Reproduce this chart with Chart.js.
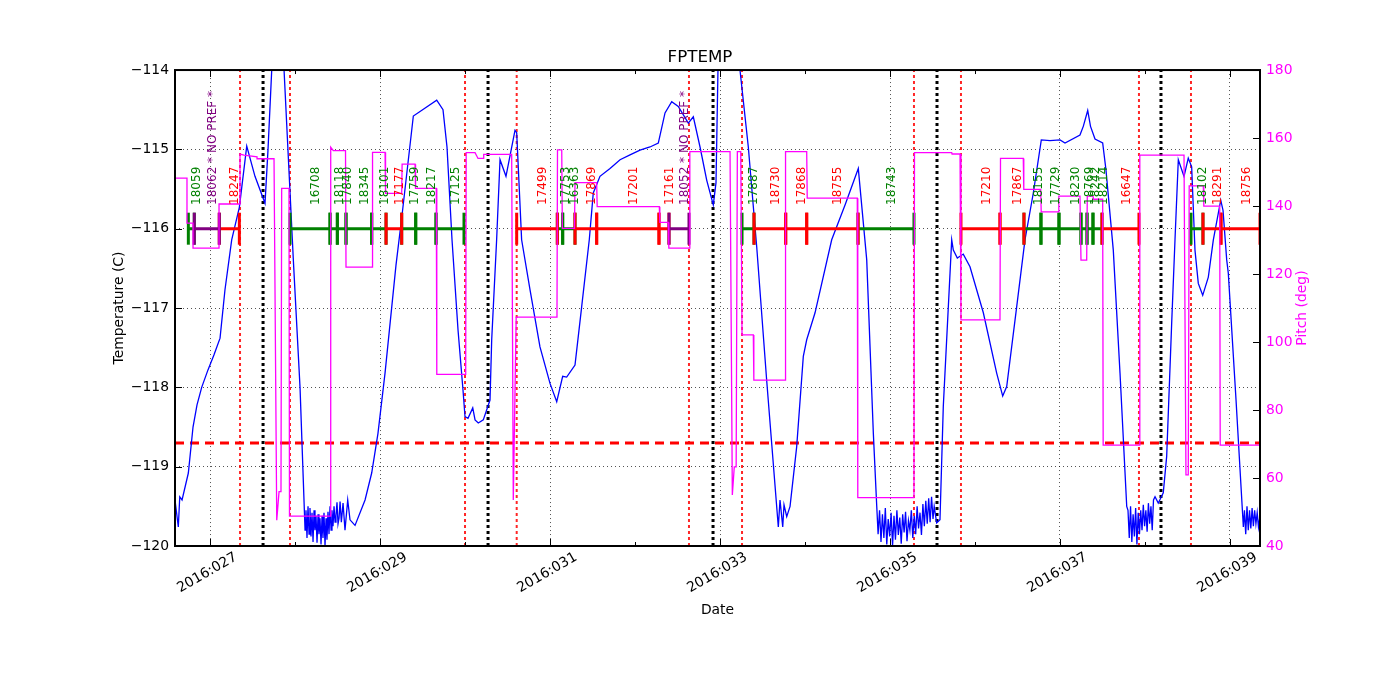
<!DOCTYPE html>
<html><head><meta charset="utf-8">
<script src="https://cdn.jsdelivr.net/npm/chart.js@4"></script>
<style>html,body{margin:0;padding:0;background:#fff}</style>
</head><body>
<canvas id="c" width="1400" height="700"></canvas>
<script>
const X_MIN = 26.588, X_MAX = 39.353;
const tempTicks = [-120,-119,-118,-117,-116,-115,-114];
const pitchTicks = [40,60,80,100,120,140,160,180];
const dayTicks = [27,28,29,30,31,32,33,34,35,36,37,38,39];
const planningLimit = -118.7;
const SEG_Y = -116, LABEL_Y = -115.7;

const tempDays = [26.588,26.627,26.644,26.671,26.745,26.800,26.847,26.902,26.976,27.047,27.118,27.176,27.255,27.345,27.432,27.529,27.647,27.682,27.726,27.776,27.835,27.871,27.980,28.059,28.118,
28.129,28.141,28.153,28.165,28.176,28.188,28.200,28.212,28.224,28.235,28.247,28.259,28.271,28.282,28.294,28.306,28.318,28.329,28.341,28.353,28.365,28.376,28.388,28.400,28.412,28.424,28.435,28.447,28.459,28.471,28.482,28.494,28.506,28.518,28.530,28.545,28.565,
28.588,28.620,28.647,28.706,28.824,28.902,28.976,29.059,29.188,29.259,29.392,29.667,29.741,29.788,29.847,29.918,29.976,30.000,30.035,30.091,30.118,30.156,30.215,30.294,30.314,30.372,30.412,30.482,30.588,30.608,30.666,30.765,30.882,31.000,31.079,31.149,31.196,31.294,31.373,31.462,31.509,31.588,31.706,31.824,31.941,32.059,32.176,32.274,32.353,32.432,32.509,32.627,32.686,32.765,32.844,32.921,32.953,32.976,33.000,33.212,33.235,33.333,33.432,33.549,33.686,33.706,33.738,33.753,33.785,33.824,33.902,33.980,34.020,34.118,34.314,34.471,34.627,34.726,34.804,34.844,
34.860,34.877,34.894,34.911,34.928,34.945,34.962,34.979,34.996,35.013,35.030,35.047,35.064,35.081,35.098,35.115,35.132,35.149,35.166,35.183,35.200,35.217,35.234,35.251,35.268,35.285,35.302,35.319,35.336,35.353,35.370,35.387,35.404,35.421,35.438,35.455,35.472,35.489,35.506,35.520,
35.549,35.588,35.627,35.726,35.745,35.792,35.862,35.941,36.098,36.255,36.326,36.373,36.491,36.588,36.686,36.780,36.882,37.000,37.059,37.235,37.274,37.326,37.359,37.412,37.502,37.541,37.627,37.706,37.785,
37.800,37.815,37.830,37.845,37.860,37.875,37.890,37.905,37.920,37.935,37.950,37.965,37.980,37.995,38.010,38.025,38.040,38.055,38.070,38.085,38.100,
38.118,38.156,38.215,38.255,38.314,38.353,38.392,38.459,38.509,38.549,38.588,38.627,38.679,38.745,38.804,38.891,38.918,38.961,38.980,39.071,39.157,
39.170,39.185,39.200,39.215,39.230,39.245,39.260,39.275,39.290,39.305,39.320,39.335,39.353];
const tempVals = [-119.42,-119.76,-119.38,-119.42,-119.08,-118.50,-118.22,-118.00,-117.78,-117.59,-117.38,-116.77,-116.14,-115.73,-114.96,-115.34,-115.68,-115.01,-114.00,-113.37,-113.37,-114.00,-116.39,-118.00,-119.80,
-119.55,-119.90,-119.50,-119.85,-119.52,-119.88,-119.58,-119.95,-119.55,-119.80,-119.62,-119.96,-119.60,-119.85,-119.65,-119.98,-119.62,-119.90,-119.58,-120.00,-119.65,-119.92,-119.57,-119.85,-119.50,-119.80,-119.55,-119.75,-119.50,-119.70,-119.62,-119.45,-119.72,-119.65,-119.44,-119.70,-119.46,
-119.80,-119.42,-119.67,-119.74,-119.42,-119.08,-118.58,-117.82,-116.46,-115.83,-114.58,-114.38,-114.50,-114.97,-116.14,-117.28,-118.03,-118.37,-118.39,-118.26,-118.41,-118.45,-118.41,-118.16,-117.40,-116.14,-115.13,-115.34,-114.76,-114.79,-116.14,-116.77,-117.49,-117.95,-118.18,-117.86,-117.87,-117.72,-116.98,-116.14,-115.55,-115.34,-115.24,-115.13,-115.07,-115.01,-114.97,-114.92,-114.54,-114.40,-114.46,-114.67,-114.59,-114.97,-115.39,-115.70,-115.42,-114.00,-113.37,-113.37,-114.00,-114.97,-116.23,-117.91,-119.76,-119.42,-119.76,-119.48,-119.63,-119.50,-118.75,-117.61,-117.40,-117.06,-116.14,-115.70,-115.24,-116.39,-118.58,-119.50,
-119.85,-119.55,-119.95,-119.60,-119.90,-119.52,-119.98,-119.66,-119.88,-119.58,-120.00,-119.62,-119.92,-119.55,-119.86,-119.64,-119.97,-119.60,-119.83,-119.57,-119.94,-119.68,-119.80,-119.55,-119.90,-119.62,-119.85,-119.50,-119.78,-119.58,-119.86,-119.47,-119.75,-119.43,-119.72,-119.40,-119.70,-119.38,-119.66,-119.50,
-119.71,-119.67,-118.24,-116.14,-116.27,-116.37,-116.32,-116.48,-117.06,-117.82,-118.11,-117.99,-116.98,-116.14,-115.55,-114.88,-114.89,-114.88,-114.92,-114.82,-114.71,-114.51,-114.71,-114.87,-114.92,-115.26,-116.27,-117.82,-119.50,
-119.55,-119.90,-119.50,-119.95,-119.60,-119.88,-119.52,-119.98,-119.58,-119.85,-119.55,-119.80,-119.48,-119.75,-119.55,-119.82,-119.46,-119.72,-119.50,-119.80,-119.42,
-119.38,-119.46,-119.33,-118.87,-117.19,-116.14,-115.13,-115.34,-115.11,-115.22,-116.27,-116.69,-116.84,-116.61,-116.14,-115.64,-115.77,-116.39,-116.56,-118.16,-119.76,
-119.55,-119.85,-119.50,-119.80,-119.55,-119.78,-119.52,-119.75,-119.55,-119.72,-119.58,-119.76,-119.62];

const pitchDays = [26.588,26.729,26.729,26.800,26.800,27.106,27.106,27.353,27.353,27.400,27.553,27.553,27.753,27.785,27.812,27.835,27.843,27.929,27.935,28.412,28.420,28.450,28.594,28.600,28.906,28.912,29.059,29.065,29.255,29.260,29.412,29.418,29.662,29.668,30.008,30.014,30.118,30.153,30.212,30.220,30.549,30.568,30.602,31.082,31.088,31.138,31.145,31.288,31.294,31.549,31.555,32.286,32.292,32.392,32.398,32.639,32.645,33.118,33.145,33.168,33.190,33.204,33.244,33.259,33.392,33.398,33.765,33.771,34.020,34.026,34.615,34.621,35.282,35.288,35.726,35.730,35.824,35.835,36.294,36.300,36.568,36.574,36.773,36.779,36.980,36.986,37.235,37.247,37.314,37.321,37.388,37.394,37.502,37.508,37.933,37.939,38.459,38.482,38.509,38.520,38.686,38.692,38.879,38.885,39.353];
const pitchVals = [148.2,148.2,135.0,135.0,127.6,127.6,140.6,140.6,155.3,155.0,154.5,153.9,153.9,47.6,56.0,56.0,145.2,145.2,48.8,48.8,157.3,156.3,156.3,122.0,122.0,155.8,155.8,143.7,143.7,152.3,152.3,145.2,145.2,90.5,90.5,155.7,155.7,154.0,154.0,155.2,155.2,53.5,107.3,107.3,156.5,156.5,133.4,133.4,146.9,146.9,139.8,139.8,135.2,135.2,127.6,127.6,156.0,156.0,55.0,63.3,63.3,156.0,156.0,102.1,102.1,88.8,88.8,156.0,156.0,142.3,142.3,54.2,54.2,155.7,155.7,155.3,155.3,106.5,106.5,154.0,154.0,144.9,144.9,138.3,138.3,142.9,142.9,124.1,124.1,142.9,142.9,142.0,142.0,69.7,69.7,155.0,155.0,60.9,60.9,145.9,145.9,140.0,140.0,69.7,69.7];

const segStart = [26.745,26.815,27.109,27.941,28.412,28.498,28.600,28.902,29.071,29.255,29.420,29.659,30.608,31.086,31.149,31.294,31.549,32.282,32.400,33.259,33.400,33.773,34.020,34.624,35.835,36.294,36.576,36.776,36.988,37.247,37.318,37.388,37.494,38.541,38.682,38.894];
const segEnd   = [26.815,27.109,27.345,28.412,28.498,28.600,28.902,29.071,29.255,29.420,29.659,29.988,31.086,31.149,31.294,31.549,32.282,32.400,32.635,33.400,33.773,34.020,34.624,35.282,36.294,36.576,36.776,36.988,37.247,37.318,37.388,37.494,37.929,38.682,38.894,39.353];
const segKind  = ['g','p','r','g','g','g','g','g','r','g','g','g','r','g','g','r','r','r','p','g','r','r','r','g','r','r','g','g','g','g','g','g','r','g','r','r'];
const segLabel = ['18059','18062 * NO PREF *','18247','16708','18118','17840','18345','18101','17177','17759','18217','17125','17499','17753','16363','17869','17201','17161','18052 * NO PREF *','17887','18730','17868','18755','18743','17210','17867','18155','17729','18230','18769','18242','18214','16647','18102','18291','18756'];
const kindColor = {g:'#008000', r:'#ff0000', p:'#800080'};

const redLineDays = [27.353,27.941,30.000,30.608,32.635,33.259,35.282,35.835,37.929,38.541];
const blackLineDays = [27.624,30.271,32.918,35.553,38.188];

const FONT = 'DejaVu Sans';
Chart.defaults.font.family = FONT;

function vLines(days){ const d=[]; days.forEach(v=>{d.push({x:v,y:-120},{x:v,y:-114},{x:v,y:null});}); return d; }
function segData(kind){ const d=[]; segStart.forEach((s,i)=>{ if(segKind[i]===kind){ d.push({x:s,y:SEG_Y},{x:segEnd[i],y:SEG_Y},{x:segEnd[i],y:null}); } }); return d; }
function segDs(kind, order){ return {data:segData(kind), xAxisID:'x', yAxisID:'y', borderColor:kindColor[kind], borderWidth:3, pointStyle:'line', pointRotation:90, pointRadius:16, pointHoverRadius:16, pointBorderWidth:3, pointBorderColor:kindColor[kind], pointBackgroundColor:kindColor[kind], spanGaps:false, order:order}; }

const deco = {
  id:'deco',
  afterDatasetsDraw(chart){
    const ctx = chart.ctx, a = chart.chartArea, xs = chart.scales.x, ys = chart.scales.y, y2 = chart.scales.y2;
    ctx.save();
    ctx.font = '12px "' + FONT + '"';
    ctx.textAlign = 'left'; ctx.textBaseline = 'top';
    segLabel.forEach((t,i)=>{
      const px = xs.getPixelForValue((segStart[i]+segEnd[i])/2);
      const py = ys.getPixelForValue(LABEL_Y);
      ctx.save(); ctx.translate(px, py); ctx.rotate(-Math.PI/2);
      ctx.fillStyle = kindColor[segKind[i]]; ctx.fillText(t, 0, 0); ctx.restore();
    });
    ctx.strokeStyle = '#000'; ctx.lineWidth = 1;
    ctx.beginPath();
    dayTicks.forEach(d=>{ const px = Math.round(xs.getPixelForValue(d))+0.5; const L = (d%2===1)?7:4;
      ctx.moveTo(px,a.bottom); ctx.lineTo(px,a.bottom-L); ctx.moveTo(px,a.top); ctx.lineTo(px,a.top+L); });
    tempTicks.forEach(t=>{ const py = Math.round(ys.getPixelForValue(t))+0.5; ctx.moveTo(a.left,py); ctx.lineTo(a.left+7,py); });
    pitchTicks.forEach(p=>{ const py = Math.round(y2.getPixelForValue(p))+0.5; ctx.moveTo(a.right,py); ctx.lineTo(a.right-7,py); });
    ctx.stroke();
    ctx.lineWidth = 2; ctx.strokeRect(a.left, a.top, a.right-a.left, a.bottom-a.top);
    ctx.font = '13.9px "' + FONT + '"'; ctx.fillStyle = '#000';
    ctx.textAlign = 'center'; ctx.textBaseline = 'middle';
    ctx.fillText('Date', (a.left+a.right)/2, 610);
    ctx.save(); ctx.translate(119, (a.top+a.bottom)/2); ctx.rotate(-Math.PI/2); ctx.fillText('Temperature (C)', 0, 0); ctx.restore();
    ctx.save(); ctx.fillStyle = '#ff00ff'; ctx.translate(1302, (a.top+a.bottom)/2); ctx.rotate(-Math.PI/2); ctx.fillText('Pitch (deg)', 0, 0); ctx.restore();
    ctx.restore();
  }
};

const gridColor = 'rgba(0,0,0,0.85)';
new Chart(document.getElementById('c'), {
  type:'line',
  data:{ datasets:[
    {data:pitchDays.map((d,i)=>({x:d,y:pitchVals[i]})), yAxisID:'y2', borderColor:'#ff00ff', borderWidth:1.3, pointRadius:0, order:0},
    segDs('p',1), segDs('r',2), segDs('g',3),
    {data:tempDays.map((d,i)=>({x:d,y:tempVals[i]})), yAxisID:'y', borderColor:'#0000ff', borderWidth:1.3, pointRadius:0, order:4},
    {data:[{x:X_MIN,y:planningLimit},{x:X_MAX,y:planningLimit}], yAxisID:'y', borderColor:'#ff0000', borderWidth:3, borderDash:[9,6], pointRadius:0, order:5},
    {data:vLines(redLineDays), yAxisID:'y', borderColor:'rgba(255,0,0,0.85)', borderWidth:2, borderDash:[3,3], pointRadius:0, spanGaps:false, order:6},
    {data:vLines(blackLineDays), yAxisID:'y', borderColor:'#000', borderWidth:3, borderDash:[3,3], pointRadius:0, spanGaps:false, order:7}
  ]},
  options:{
    responsive:false, animation:false, devicePixelRatio:1,
    layout:{padding:0},
    plugins:{
      legend:{display:false}, tooltip:{enabled:false},
      title:{display:true, text:'FPTEMP', color:'#000', font:{family:FONT, size:16.7, weight:'normal', lineHeight:1.2}, padding:{top:48, bottom:2}}
    },
    scales:{
      x:{type:'linear', position:'bottom', min:X_MIN, max:X_MAX,
        afterBuildTicks:(s)=>{ s.ticks = dayTicks.map(v=>({value:v})); },
        afterFit:(s)=>{ s.height = 154; },
        ticks:{autoSkip:false, minRotation:30, maxRotation:30, color:'#000', font:{family:FONT, size:13.9}, padding:3, labelOffset:26,
          callback:(v)=> (v%2===1) ? ('2016:0' + v) : ''},
        grid:{drawTicks:false, lineWidth:0.8, color:(c)=> (c.tick && c.tick.value%2===1) ? gridColor : 'rgba(0,0,0,0)'},
        border:{display:false, dash:[1,3]}
      },
      y:{type:'linear', position:'left', min:-120, max:-114,
        afterBuildTicks:(s)=>{ s.ticks = tempTicks.map(v=>({value:v})); },
        afterFit:(s)=>{ s.width = 175; },
        ticks:{color:'#000', font:{family:FONT, size:13.9}, padding:6, callback:(v)=> (v<0 ? '\u2212' : '') + Math.abs(v)},
        grid:{drawTicks:false, lineWidth:0.8, color:gridColor},
        border:{display:false, dash:[1,3]}
      },
      y2:{type:'linear', position:'right', min:40, max:180,
        afterBuildTicks:(s)=>{ s.ticks = pitchTicks.map(v=>({value:v})); },
        afterFit:(s)=>{ s.width = 140; },
        ticks:{color:'#ff00ff', font:{family:FONT, size:13.9}, padding:6},
        grid:{display:false, drawOnChartArea:false, drawTicks:false},
        border:{display:false}
      }
    }
  },
  plugins:[deco]
});
</script>
</body></html>
